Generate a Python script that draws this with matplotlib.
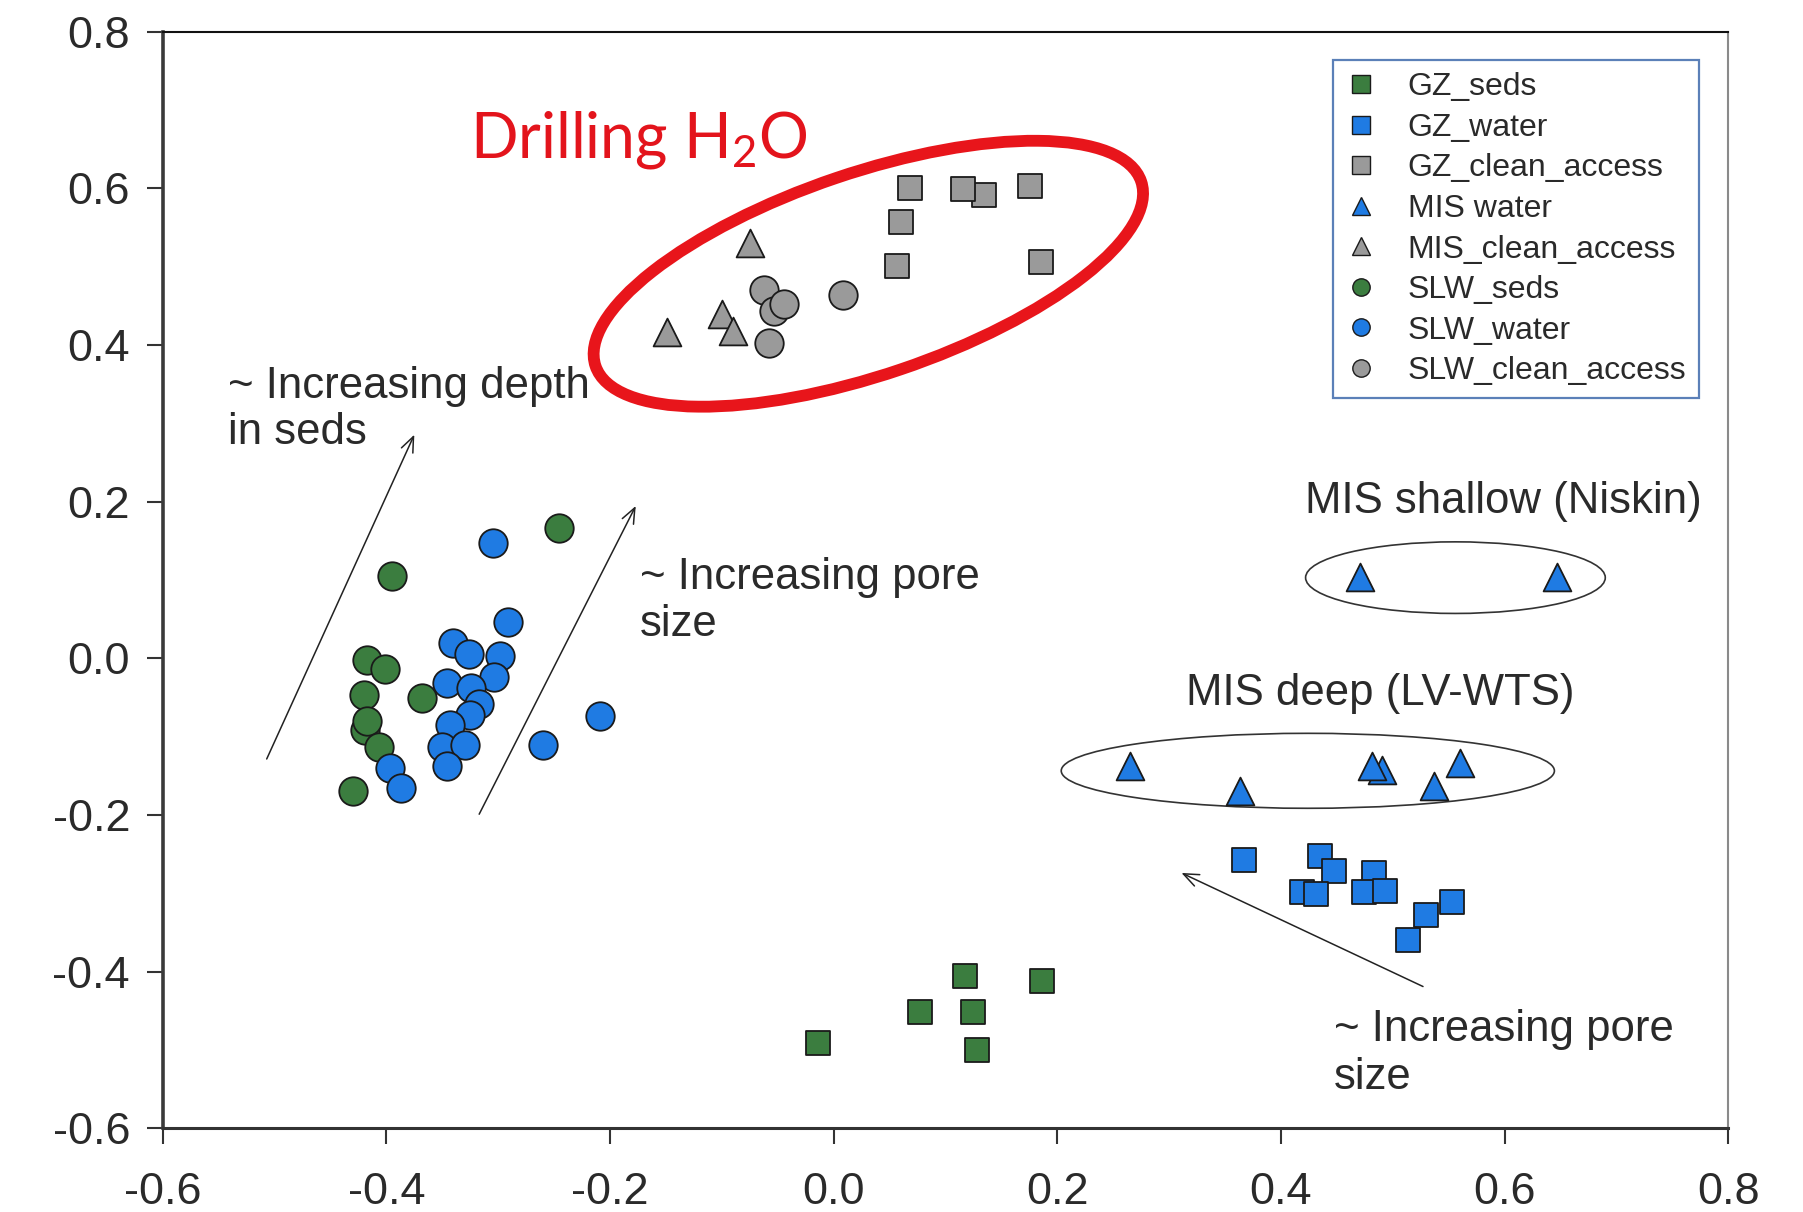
import matplotlib
matplotlib.use("Agg")
import matplotlib.pyplot as plt
from matplotlib.lines import Line2D
from matplotlib.patches import Ellipse
from matplotlib import transforms

plt.rcParams['font.family'] = ['Liberation Sans', 'DejaVu Sans']
plt.rcParams['axes.unicode_minus'] = False

# ---------------- data ----------------
gz_seds_x = [-0.014, 0.077, 0.117, 0.125, 0.128, 0.186]
gz_seds_y = [-0.491, -0.452, -0.405, -0.451, -0.500, -0.412]

gz_water_x = [0.367, 0.435, 0.447, 0.419, 0.431, 0.483, 0.474, 0.493, 0.553, 0.530, 0.514]
gz_water_y = [-0.258, -0.252, -0.272, -0.298, -0.301, -0.274, -0.298, -0.297, -0.311, -0.328, -0.359]

gz_clean_x = [0.068, 0.134, 0.116, 0.176, 0.060, 0.057, 0.185]
gz_clean_y = [0.601, 0.592, 0.599, 0.603, 0.557, 0.501, 0.506]

mis_water_x = [0.471, 0.647, 0.265, 0.363, 0.490, 0.481, 0.560, 0.537]
mis_water_y = [0.104, 0.104, -0.138, -0.170, -0.142, -0.138, -0.134, -0.163]

mis_clean_x = [-0.075, -0.100, -0.090, -0.149]
mis_clean_y = [0.530, 0.440, 0.418, 0.416]

slw_seds_x = [-0.246, -0.395, -0.417, -0.401, -0.420, -0.368, -0.419, -0.4176, -0.407, -0.430]
slw_seds_y = [0.166, 0.105, -0.002, -0.013, -0.047, -0.051, -0.092, -0.080, -0.113, -0.170]

slw_water_x = [-0.305, -0.291, -0.340, -0.326, -0.298, -0.304, -0.346, -0.324, -0.317,
               -0.325, -0.343, -0.350, -0.330, -0.346, -0.397, -0.387, -0.260, -0.209]
slw_water_y = [0.147, 0.047, 0.020, 0.006, 0.003, -0.024, -0.032, -0.038, -0.058,
               -0.072, -0.085, -0.113, -0.111, -0.137, -0.140, -0.166, -0.111, -0.074]

slw_clean_x = [-0.062, -0.053, -0.044, 0.008, -0.058]
slw_clean_y = [0.470, 0.443, 0.452, 0.464, 0.403]

series_labels = ['GZ_seds', 'GZ_water', 'GZ_clean_access', 'MIS water',
                 'MIS_clean_access', 'SLW_seds', 'SLW_water', 'SLW_clean_access']

x_ticks = [-0.6, -0.4, -0.2, 0.0, 0.2, 0.4, 0.6, 0.8]
y_ticks = [-0.6, -0.4, -0.2, 0.0, 0.2, 0.4, 0.6, 0.8]

# ---------------- style ----------------
GREEN = '#3b7d3f'
BLUE = '#1f7be3'
GRAY = '#9a9a9a'
EDGE = '#1a1a1a'
TXT = '#2a2a2a'

fig = plt.figure(figsize=(18.03, 12.12), dpi=100)
ax = fig.add_axes([0.09024, 0.06906, 0.86833, 0.90479])
ax.set_xlim(-0.6, 0.8)
ax.set_ylim(-0.6, 0.8)

sq = 17.5 ** 2
ci = 20.5 ** 2
tr = 20.0 ** 2
ew = 1.3

ax.scatter(gz_seds_x, gz_seds_y, s=sq, marker='s', c=GREEN, edgecolors=EDGE, linewidths=ew, zorder=3)
ax.scatter(gz_water_x, gz_water_y, s=sq, marker='s', c=BLUE, edgecolors=EDGE, linewidths=ew, zorder=3)
ax.scatter(gz_clean_x, gz_clean_y, s=sq, marker='s', c=GRAY, edgecolors=EDGE, linewidths=ew, zorder=3)
ax.scatter(mis_water_x, mis_water_y, s=tr, marker='^', c=BLUE, edgecolors=EDGE, linewidths=ew, zorder=3)
ax.scatter(mis_clean_x, mis_clean_y, s=tr, marker='^', c=GRAY, edgecolors=EDGE, linewidths=ew, zorder=3)
ax.scatter(slw_seds_x, slw_seds_y, s=ci, marker='o', c=GREEN, edgecolors=EDGE, linewidths=ew, zorder=3)
ax.scatter(slw_water_x, slw_water_y, s=ci, marker='o', c=BLUE, edgecolors=EDGE, linewidths=ew, zorder=3)
ax.scatter(slw_clean_x, slw_clean_y, s=ci, marker='o', c=GRAY, edgecolors=EDGE, linewidths=ew, zorder=3)

# ---------------- axes styling ----------------
ax.set_xticks(x_ticks)
ax.set_yticks(y_ticks)
ax.set_xticklabels([f'{v:.1f}' for v in x_ticks])
ax.set_yticklabels([f'{v:.1f}' for v in y_ticks])
ax.tick_params(axis='both', direction='out', length=11.5, width=1.5, colors='#333333',
               labelsize=32.5, labelcolor=TXT)
ax.tick_params(axis='y', pad=12)
ax.tick_params(axis='x', pad=20)
ax.spines['left'].set_linewidth(2.6)
ax.spines['left'].set_color('#3a3a3a')
ax.spines['bottom'].set_linewidth(2.2)
ax.spines['bottom'].set_color('#333333')
ax.spines['top'].set_linewidth(1.5)
ax.spines['top'].set_color('#111111')
ax.spines['right'].set_linewidth(1.5)
ax.spines['right'].set_color('#8a8a8a')

# ---------------- ellipses ----------------
# red ellipse, shape defined in inches, centred at a data point
red_tr = fig.dpi_scale_trans + transforms.ScaledTranslation(0.031, 0.491, ax.transData)
ax.add_patch(Ellipse((0, 0), width=5.76, height=2.02, angle=18.7, fill=False,
                     edgecolor='#e8151b', linewidth=8.5, transform=red_tr, zorder=4))
ax.add_patch(Ellipse((0.556, 0.103), width=0.268, height=0.0914, fill=False,
                     edgecolor='#333333', linewidth=1.2, zorder=2))
ax.add_patch(Ellipse((0.424, -0.1436), width=0.441, height=0.0957, fill=False,
                     edgecolor='#333333', linewidth=1.2, zorder=2))

# ---------------- arrows ----------------
arrow_kw = dict(arrowstyle='->,head_length=1.1,head_width=0.45', color='#222222', lw=1.1,
                shrinkA=0, shrinkB=0)
ax.annotate('', xy=(-0.375, 0.2855), xytext=(-0.507, -0.1285), arrowprops=arrow_kw)
ax.annotate('', xy=(-0.177, 0.1945), xytext=(-0.317, -0.199), arrowprops=arrow_kw)
ax.annotate('', xy=(0.311, -0.274), xytext=(0.527, -0.419), arrowprops=arrow_kw)

# ---------------- texts ----------------
tk = dict(fontsize=31.5, color=TXT, ha='left', va='baseline')
ax.text(-0.542, 0.3324, '~ Increasing depth', **tk)
ax.text(-0.542, 0.2736, 'in seds', **tk)
ax.text(-0.173, 0.0888, '~ Increasing pore', **tk)
ax.text(-0.173, 0.0285, 'size', **tk)
ax.text(0.4475, -0.488, '~ Increasing pore', **tk)
ax.text(0.4475, -0.5496, 'size', **tk)
ax.text(0.4215, 0.1852, 'MIS shallow (Niskin)', **tk)
ax.text(0.3148, -0.0596, 'MIS deep (LV-WTS)', **tk)

ax.text(-0.325, 0.640, r'Drilling H$\mathregular{_2}$O', fontsize=45, color='#e3141c',
        family=['Lato', 'DejaVu Sans'], ha='left', va='baseline')

# ---------------- legend ----------------
leg_colors = [GREEN, BLUE, GRAY, BLUE, GRAY, GREEN, BLUE, GRAY]
leg_markers = ['s', 's', 's', '^', '^', 'o', 'o', 'o']
handles = [Line2D([], [], linestyle='none', marker=m, markersize=12.5, markerfacecolor=c,
                  markeredgecolor=EDGE, markeredgewidth=1.0)
           for m, c in zip(leg_markers, leg_colors)]
leg = ax.legend(handles, series_labels, loc='upper right', bbox_to_anchor=(0.981, 0.974),
                borderaxespad=0, fontsize=23, frameon=True, fancybox=False,
                handlelength=1.0, handletextpad=0.95, borderpad=0.38, labelspacing=0.33,
                labelcolor=TXT)
leg.get_frame().set_edgecolor('#5b80b8')
leg.get_frame().set_linewidth(1.6)
leg.get_frame().set_alpha(1)

fig.savefig('out.png', dpi=100)
